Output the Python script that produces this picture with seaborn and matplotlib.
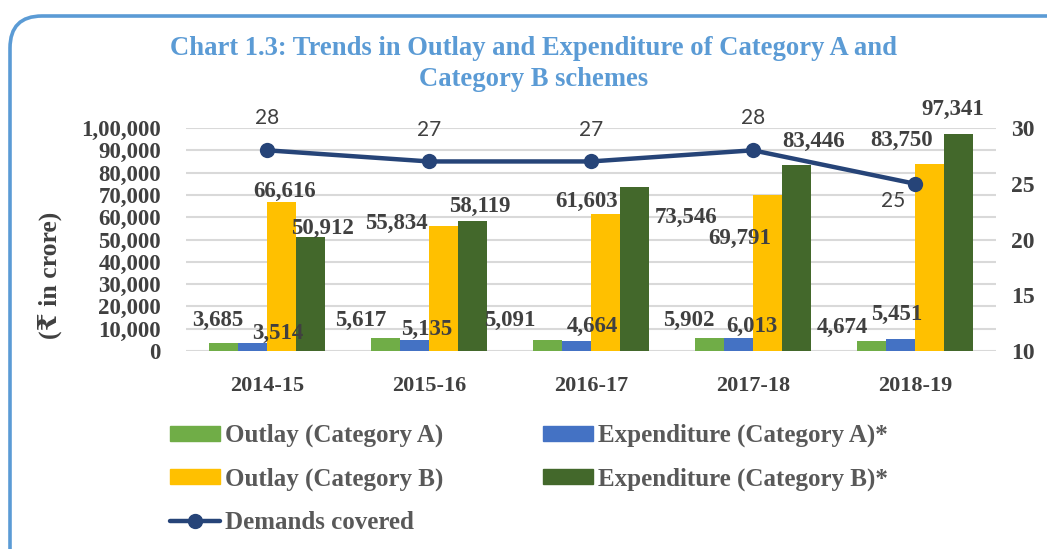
import matplotlib
matplotlib.use("Agg")
import matplotlib.pyplot as plt
import matplotlib.transforms as mtransforms
from matplotlib.patches import FancyBboxPatch, Patch
from matplotlib.lines import Line2D
from matplotlib.ticker import FixedLocator, FuncFormatter
import seaborn as sns
import pandas as pd
import numpy as np

# --- data ---
years = ["2014-15", "2015-16", "2016-17", "2017-18", "2018-19"]
outlay_a = [3685, 5617, 5091, 5902, 4674]
expend_a = [3514, 5135, 4664, 6013, 5451]
outlay_b = [66616, 55834, 61603, 69791, 83750]
expend_b = [50912, 58119, 73546, 83446, 97341]
demands = [28, 27, 27, 28, 25]

series_names = ["Outlay (Category A)", "Expenditure (Category A)*",
                "Outlay (Category B)", "Expenditure (Category B)*"]
series_colors = ["#70AD47", "#4472C4", "#FFC000", "#43682B"]
line_color = "#264478"
txt_color = "#404040"

# label nudges (pixels) relative to each bar top, per series then per year
bar_nudge = [
    [(-6, 22), (-25, 18), (-38, 19), (-20, 17), (-29, 13)],
    [(25, 10), (12, 10), (16, 14), (13, 11), (-4, 24)],
    [(3, 11), (-47, 3), (-19, 12), (-28, -43), (-28, 24)],
    [(12, 9), (7, 15), (51, -30), (17, 23), (-6, 24)],
]
line_nudge = [(0, 32), (0, 31), (0, 31), (0, 32), (-22, -17)]

df = pd.DataFrame({
    "year": np.repeat([years], 4, axis=0).ravel(),
    "series": np.repeat(series_names, len(years)),
    "value": outlay_a + expend_a + outlay_b + expend_b,
})

sns.set_style("white")
serif = ["Liberation Serif", "DejaVu Serif", "DejaVu Sans"]
plt.rcParams["font.family"] = serif

fig = plt.figure(figsize=(10.47, 5.49), dpi=100)
ax = fig.add_axes([186 / 1047, 1 - 351 / 549, 810 / 1047, 223 / 549])

sns.barplot(data=df, x="year", y="value", hue="series", hue_order=series_names,
            palette=series_colors, width=0.72, gap=0, saturation=1,
            linewidth=0, legend=False, ax=ax, zorder=3)

ax.set_xlim(-0.5, 4.5)
ax.set_ylim(0, 100000)
ax.yaxis.set_major_locator(FixedLocator(np.arange(0, 100001, 10000)))


def indian_fmt(v, pos):
    v = int(round(v))
    if v >= 100000:
        return f"{v // 100000},{(v % 100000) // 1000:02d},{v % 1000:03d}"
    return f"{v:,}"


ax.yaxis.set_major_formatter(FuncFormatter(indian_fmt))
ax.grid(axis="y", color="#D9D9D9", linewidth=1.5, zorder=0)
ax.set_axisbelow(True)
for s in ax.spines.values():
    s.set_visible(False)
ax.set_xlabel("")
ax.set_ylabel("")
ax.tick_params(axis="y", length=0, pad=18, labelsize=16.5, labelcolor=txt_color)
ax.tick_params(axis="x", length=0, pad=18, labelsize=16, labelcolor=txt_color)
for t in ax.get_yticklabels() + ax.get_xticklabels():
    t.set_fontweight("bold")

# bar labels
for i, cont in enumerate(ax.containers):
    for j, bar in enumerate(cont):
        dx, dy = bar_nudge[i][j]
        val = bar.get_height()
        ax.annotate(f"{int(val):,}", (bar.get_x() + bar.get_width() / 2, val),
                    xytext=(dx, dy), textcoords="offset pixels",
                    ha="center", va="center", fontsize=16.5, fontweight="bold",
                    color=txt_color, zorder=6, annotation_clip=False)

# demands line on secondary axis
ax2 = ax.twinx()
sns.lineplot(x=np.arange(len(years)), y=demands, ax=ax2, color=line_color,
             linewidth=3.2, marker="o", markersize=11, markeredgewidth=0,
             zorder=5)
ax2.set_ylim(10, 30)
ax2.yaxis.set_major_locator(FixedLocator([10, 15, 20, 25, 30]))
for s in ax2.spines.values():
    s.set_visible(False)
ax2.tick_params(axis="y", length=0, pad=11, labelsize=17, labelcolor=txt_color)
for t in ax2.get_yticklabels():
    t.set_fontweight("bold")
ax2.set_ylabel("")
for k, d in enumerate(demands):
    dx, dy = line_nudge[k]
    ax2.annotate(str(d), (k, d), xytext=(dx, dy), textcoords="offset pixels",
                 ha="center", va="center", fontsize=15, color=txt_color,
                 family=["Lato", "DejaVu Sans"], annotation_clip=False)

# titles and axis label
fig.text(534 / 1047, 1 - 64 / 549,
         "Chart 1.3: Trends in Outlay and Expenditure of Category A and\nCategory B schemes",
         ha="center", va="center", fontsize=19.2, fontweight="bold",
         color="#5B9BD5", linespacing=1.3)
fig.text(50 / 1047, 1 - 275 / 549, "(₹ in crore)", rotation=90,
         ha="center", va="center", fontsize=18.5, fontweight="bold",
         color=txt_color)

# legend
handles = [
    Patch(color=series_colors[0], label=series_names[0]),
    Patch(color=series_colors[2], label=series_names[2]),
    Line2D([], [], color=line_color, linewidth=3.2, marker="o",
           markersize=10, label="Demands covered"),
    Patch(color=series_colors[1], label=series_names[1]),
    Patch(color=series_colors[3], label=series_names[3]),
]
leg = fig.legend(handles=handles, ncol=2, loc="upper left",
                 bbox_to_anchor=(160 / 1047, 1 - 414 / 549), frameon=False,
                 prop={"family": serif, "weight": "bold", "size": 18},
                 handlelength=2.0, handleheight=0.55, handletextpad=0.2,
                 columnspacing=4.0, labelspacing=0.8, borderaxespad=0)
for t in leg.get_texts():
    t.set_color("#595959")

# rounded blue frame around the chart
frame = FancyBboxPatch((10, -40), 1100, 573,
                       boxstyle="round,pad=0,rounding_size=32",
                       transform=mtransforms.IdentityTransform(),
                       fill=False, edgecolor="#5B9BD5", linewidth=2.6)
fig.patches.append(frame)

fig.savefig("out.png", dpi=100)
